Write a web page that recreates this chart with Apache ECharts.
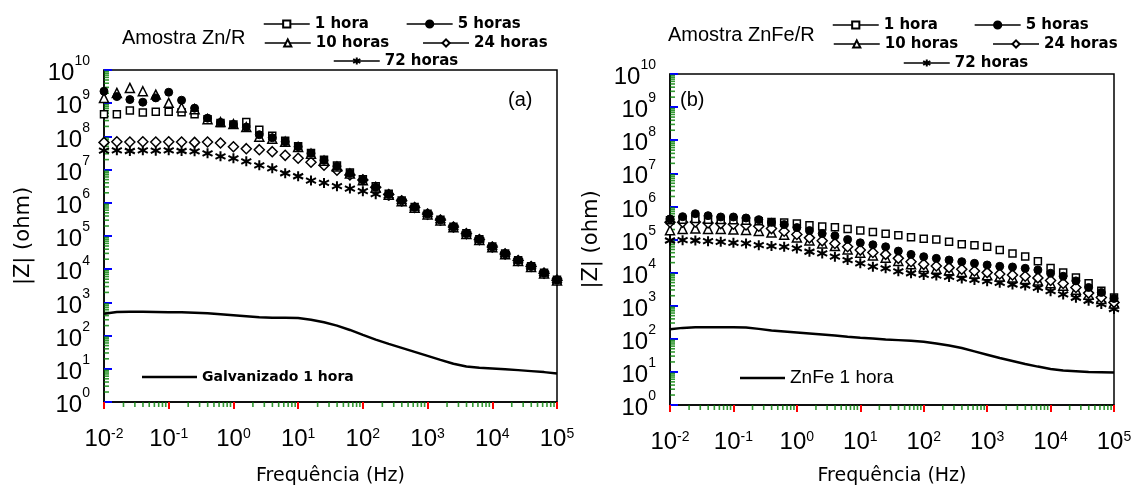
<!DOCTYPE html>
<html><head><meta charset="utf-8">
<script src="https://cdn.jsdelivr.net/npm/echarts@6/dist/echarts.min.js"></script>
<style>html,body{margin:0;padding:0;background:#fff}#c{width:1136px;height:491px}</style>
</head><body><div id="c"></div>
<script>
// ---- data (frequencies in Hz, impedances as log10 |Z|) ----
const freqHz = [0.01,0.0158,0.0251,0.0398,0.0631,0.1,0.158,0.251,0.398,0.631,1,1.58,2.51,3.98,6.31,10,15.8,25.1,39.8,63.1,100,158,251,398,631,1000,1580,2510,3980,6310,10000,15800,25100,39800,63100,100000];
const xTickExps = [-2,-1,0,1,2,3,4,5];
const yTickExps = [0,1,2,3,4,5,6,7,8,9,10];
const seriesNames = ['1 hora','5 horas','10 horas','24 horas','72 horas'];

// plot (a) Amostra Zn/R
const znR_1h  = [8.67,8.67,8.78,8.72,8.74,8.74,8.73,8.67,8.52,8.40,8.36,8.43,8.20,8.02,7.87,7.70,7.50,7.30,7.12,6.91,6.71,6.50,6.27,6.07,5.87,5.67,5.49,5.28,5.08,4.90,4.68,4.47,4.27,4.09,3.89,3.68];
const znR_5h  = [9.36,9.20,9.11,9.03,9.16,9.33,9.09,8.85,8.55,8.42,8.36,8.28,8.05,7.96,7.84,7.69,7.49,7.28,7.10,6.89,6.69,6.47,6.25,6.06,5.86,5.66,5.48,5.27,5.07,4.89,4.67,4.46,4.26,4.08,3.88,3.67];
const znR_10h = [9.16,9.31,9.46,9.36,9.26,9.01,8.87,8.82,8.52,8.43,8.37,8.28,7.99,7.93,7.84,7.68,7.48,7.27,7.09,6.88,6.68,6.46,6.24,6.05,5.85,5.65,5.47,5.26,5.06,4.88,4.66,4.45,4.25,4.07,3.87,3.66];
const znR_24h = [7.82,7.84,7.83,7.84,7.83,7.84,7.83,7.82,7.83,7.80,7.69,7.63,7.60,7.54,7.43,7.34,7.22,7.13,6.98,6.84,6.69,6.47,6.25,6.06,5.86,5.66,5.48,5.27,5.07,4.89,4.67,4.46,4.26,4.08,3.88,3.67];
const znR_72h = [7.57,7.58,7.56,7.58,7.57,7.58,7.56,7.55,7.49,7.40,7.34,7.25,7.13,7.04,6.89,6.80,6.67,6.60,6.50,6.43,6.35,6.26,6.21,6.04,5.84,5.65,5.46,5.26,5.06,4.88,4.66,4.45,4.25,4.07,3.87,3.66];
const galv_1h = [2.66,2.71,2.72,2.72,2.71,2.70,2.70,2.69,2.67,2.64,2.61,2.58,2.55,2.54,2.54,2.53,2.48,2.40,2.30,2.17,2.02,1.88,1.75,1.63,1.51,1.39,1.27,1.15,1.07,1.03,1.01,0.99,0.96,0.93,0.90,0.86];

// plot (b) Amostra ZnFe/R
const znFeR_1h  = [5.58,5.60,5.62,5.60,5.59,5.58,5.57,5.55,5.53,5.51,5.48,5.43,5.39,5.37,5.32,5.27,5.23,5.17,5.13,5.07,5.02,5.00,4.93,4.86,4.83,4.78,4.68,4.58,4.49,4.34,4.14,4.00,3.85,3.68,3.45,3.25];
const znFeR_5h  = [5.62,5.69,5.78,5.72,5.68,5.68,5.65,5.60,5.52,5.45,5.36,5.27,5.18,5.11,5.00,4.90,4.84,4.78,4.65,4.55,4.48,4.43,4.38,4.33,4.28,4.23,4.19,4.17,4.13,4.08,3.98,3.89,3.75,3.55,3.40,3.22];
const znFeR_10h = [5.28,5.32,5.33,5.32,5.32,5.30,5.29,5.26,5.21,5.14,5.06,4.97,4.88,4.80,4.70,4.60,4.52,4.45,4.35,4.25,4.17,4.12,4.07,4.02,3.97,3.92,3.88,3.85,3.81,3.76,3.68,3.60,3.48,3.33,3.20,3.07];
const znFeR_24h = [5.52,5.52,5.53,5.50,5.48,5.46,5.44,5.40,5.33,5.25,5.15,5.05,4.96,4.88,4.78,4.68,4.61,4.55,4.43,4.33,4.25,4.20,4.15,4.10,4.05,4.00,3.96,3.93,3.89,3.84,3.76,3.67,3.55,3.38,3.25,3.10];
const znFeR_72h = [4.97,4.98,4.97,4.95,4.93,4.90,4.88,4.83,4.80,4.78,4.73,4.63,4.58,4.48,4.38,4.28,4.18,4.13,4.04,3.98,3.93,3.91,3.87,3.82,3.78,3.74,3.69,3.64,3.61,3.54,3.44,3.34,3.24,3.15,3.05,2.90];
const znFe_1h   = [2.29,2.33,2.35,2.35,2.35,2.35,2.34,2.30,2.25,2.22,2.19,2.16,2.13,2.10,2.06,2.03,2.01,1.98,1.96,1.94,1.91,1.86,1.80,1.72,1.62,1.52,1.42,1.33,1.24,1.16,1.09,1.04,1.02,1.00,0.99,0.98];

// ---- build ----
const X_MIN = Math.pow(10, xTickExps[0]), X_MAX = Math.pow(10, xTickExps[xTickExps.length-1]);
const Y_MIN = Math.pow(10, yTickExps[0]), Y_MAX = Math.pow(10, yTickExps[yTickExps.length-1]);
const pairs = (lg) => freqHz.map((f, i) => [f, Math.pow(10, lg[i])]);

const xMinor = [], yMinor = [];
for (let k = xTickExps[0]; k < xTickExps[xTickExps.length-1]; k++) for (let m = 2; m <= 9; m++) xMinor.push(m * Math.pow(10, k));
for (let k = yTickExps[0]; k < yTickExps[yTickExps.length-1]; k++) for (let m = 2; m <= 9; m++) yMinor.push(m * Math.pow(10, k));

const expFmt = v => '{b|10}{s|' + Math.round(Math.log10(v)) + '}';
const TICKFONT = 'Liberation Sans';
const richX = { b:{fontFamily:TICKFONT,fontSize:24,color:'#000'}, s:{fontFamily:TICKFONT,fontSize:14,color:'#000',verticalAlign:'top'} };
const richY = { b:{fontFamily:TICKFONT,fontSize:24,color:'#000',padding:[7,0,0,0]}, s:{fontFamily:TICKFONT,fontSize:14,color:'#000',verticalAlign:'top'} };

function xAxis(gi, nameGap){
  return { type:'log', logBase:10, gridIndex:gi, min:X_MIN, max:X_MAX,
    name:'Frequência (Hz)', nameLocation:'middle', nameGap:nameGap,
    nameTextStyle:{fontFamily:'DejaVu Sans',fontSize:19,color:'#000'},
    axisLine:{show:true,onZero:false,lineStyle:{color:'#000',width:1.5}},
    axisTick:{show:true,inside:false,length:7,lineStyle:{color:'red',width:2}},
    axisLabel:{margin:25,formatter:expFmt,rich:richX},
    splitLine:{show:false} };
}
function yAxis(gi, nameGap){
  return { type:'log', logBase:10, gridIndex:gi, min:Y_MIN, max:Y_MAX, interval:1,
    name:'|Z| (ohm)', nameLocation:'middle', nameGap:nameGap, nameRotate:90,
    nameTextStyle:{fontFamily:'DejaVu Sans',fontSize:21,color:'#000'},
    axisLine:{show:true,onZero:false,lineStyle:{color:'#000',width:1.5}},
    axisTick:{show:true,inside:true,length:8,lineStyle:{color:'blue',width:2}},
    axisLabel:{margin:14,formatter:expFmt,rich:richY},
    splitLine:{show:false} };
}

const ASTER = 'path://M10,0L10,20M1.34,5L18.66,15M1.34,15L18.66,5';
const styles = {
  '1 hora':   {symbol:'rect', symbolSize:7, itemStyle:{color:'#fff',borderColor:'#000',borderWidth:1.5}},
  '5 horas':  {symbol:'circle', symbolSize:8, itemStyle:{color:'#000',borderColor:'#000',borderWidth:1}},
  '10 horas': {symbol:'triangle', symbolSize:9, itemStyle:{color:'#fff',borderColor:'#000',borderWidth:1.5}},
  '24 horas': {symbol:'diamond', symbolSize:10, itemStyle:{color:'#fff',borderColor:'#000',borderWidth:1.5}},
  '72 horas': {symbol:ASTER, symbolSize:10, itemStyle:{color:'#000',borderColor:'#000',borderWidth:2}}
};
function markerSeries(name, lg, gi){
  return Object.assign({ name, type:'line', xAxisIndex:gi, yAxisIndex:gi, data:pairs(lg),
    showSymbol:true, showAllSymbol:true, lineStyle:{opacity:0} }, styles[name]);
}
function curveSeries(name, lg, gi){
  return { name, type:'line', xAxisIndex:gi, yAxisIndex:gi, data:pairs(lg), symbol:'none',
    lineStyle:{color:'#000',width:2.5}, itemStyle:{color:'#000'} };
}
function minorSeries(gi, dir){
  const isX = dir === 'x';
  return { name:'minor-' + dir + gi, type:'scatter', xAxisIndex:gi, yAxisIndex:gi, clip:false,
    data: isX ? xMinor.map(v => [v, Y_MIN]) : yMinor.map(v => [X_MIN, v]),
    symbol:'rect', symbolSize: isX ? [1.6, 5] : [5, 1.6], symbolOffset: isX ? [0, 2.5] : [2.5, 0],
    itemStyle:{color:'green'} };
}

const lgText = {fontFamily:'DejaVu Sans',fontWeight:'bold',fontSize:15,color:'#000',lineHeight:16};
function lg(names, left, top, gap){
  return { data:names, left, top, orient:'horizontal', itemWidth:46, itemHeight:9, itemGap:gap, padding:0,
    selectedMode:false, textStyle:lgText, lineStyle:{color:'#000',width:1.5,opacity:1} };
}
const titleStyle = {fontFamily:'Liberation Sans',fontSize:20,fontWeight:'normal',color:'#000'};

const option = {
  animation:false,
  backgroundColor:'#fff',
  title:[
    {text:'Amostra Zn/R', left:122, top:28, padding:0, textStyle:titleStyle},
    {text:'Amostra ZnFe/R', left:668, top:25, padding:0, textStyle:titleStyle},
    {text:'(a)', left:508, top:90, padding:0, textStyle:titleStyle},
    {text:'(b)', left:680, top:90, padding:0, textStyle:titleStyle}
  ],
  legend:[
    lg([seriesNames[0], seriesNames[1]], 263, 16, 37),
    lg([seriesNames[2], seriesNames[3]], 264, 35, 33),
    lg([seriesNames[4]], 333, 53, 10),
    lg([seriesNames[0], seriesNames[1]], 832, 17, 36),
    lg([seriesNames[2], seriesNames[3]], 833, 36, 34),
    lg([seriesNames[4]], 903, 55, 10),
    { data:[{name:'Galvanizado 1 hora', icon:'rect'}], left:142, top:369, itemWidth:55, itemHeight:2.5, padding:0,
      selectedMode:false, textStyle:{fontFamily:'DejaVu Sans',fontWeight:'bold',fontSize:14,color:'#000',lineHeight:16} },
    { data:[{name:'ZnFe 1 hora', icon:'rect'}], left:740, top:368, itemWidth:45, itemHeight:2.5, padding:0,
      selectedMode:false, textStyle:{fontFamily:'Liberation Sans',fontSize:19,color:'#000',lineHeight:20} }
  ],
  grid:[
    {left:104, right:1136-557, top:70, bottom:491-408, show:true, borderColor:'#000', borderWidth:1.5},
    {left:670, right:1136-1114, top:74, bottom:491-411, show:true, borderColor:'#000', borderWidth:1.5}
  ],
  xAxis:[xAxis(0, 65), xAxis(1, 62)],
  yAxis:[yAxis(0, 70), yAxis(1, 68)],
  series:[
    markerSeries('72 horas', znR_72h, 0),
    markerSeries('24 horas', znR_24h, 0),
    markerSeries('1 hora',   znR_1h, 0),
    markerSeries('10 horas', znR_10h, 0),
    markerSeries('5 horas',  znR_5h, 0),
    curveSeries('Galvanizado 1 hora', galv_1h, 0),
    markerSeries('72 horas', znFeR_72h, 1),
    markerSeries('10 horas', znFeR_10h, 1),
    markerSeries('24 horas', znFeR_24h, 1),
    markerSeries('1 hora',   znFeR_1h, 1),
    markerSeries('5 horas',  znFeR_5h, 1),
    curveSeries('ZnFe 1 hora', znFe_1h, 1),
    minorSeries(0,'x'), minorSeries(0,'y'), minorSeries(1,'x'), minorSeries(1,'y')
  ]
};
const chart = echarts.init(document.getElementById('c'));
chart.setOption(option);
</script></body></html>
